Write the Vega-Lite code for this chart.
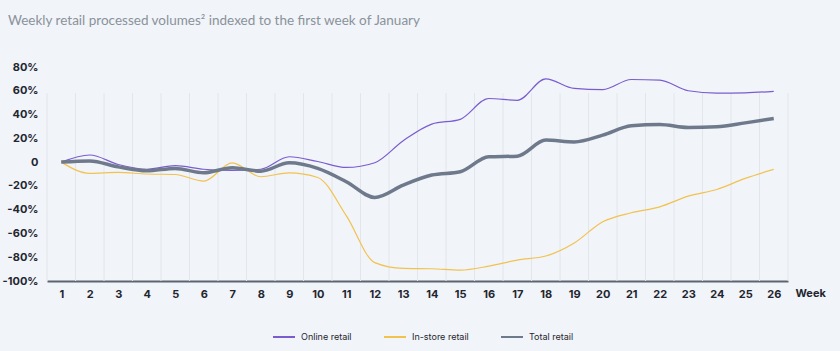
{
  "$schema": "https://vega.github.io/schema/vega-lite/v6.json",
  "width": 741,
  "height": 214,
  "autosize": {"type": "none"},
  "padding": {"left": 47, "top": 67, "right": 52, "bottom": 70},
  "background": "#f1f4f8",
  "config": {
    "view": {"stroke": null},
    "font": "Inter"
  },
  "title": {
    "text": "Weekly retail processed volumes² indexed to the first week of January",
    "anchor": "start",
    "frame": "group",
    "dx": -39,
    "offset": 34,
    "fontSize": 13.5,
    "fontWeight": "normal",
    "color": "#8a929b",
    "font": "Lato"
  },
  "resolve": {"axis": {"x": "independent", "y": "independent"}},
  "datasets": {
    "grid": [
      {"g": 0.5}, {"g": 1.5}, {"g": 2.5}, {"g": 3.5}, {"g": 4.5}, {"g": 5.5}, {"g": 6.5},
      {"g": 7.5}, {"g": 8.5}, {"g": 9.5}, {"g": 10.5}, {"g": 11.5}, {"g": 12.5}, {"g": 13.5},
      {"g": 14.5}, {"g": 15.5}, {"g": 16.5}, {"g": 17.5}, {"g": 18.5}, {"g": 19.5}, {"g": 20.5},
      {"g": 21.5}, {"g": 22.5}, {"g": 23.5}, {"g": 24.5}, {"g": 25.5}, {"g": 26.5}
    ],
    "series": [
      {"week": 1, "series": "Online retail", "value": 0},
      {"week": 2, "series": "Online retail", "value": 6},
      {"week": 3, "series": "Online retail", "value": -2},
      {"week": 4, "series": "Online retail", "value": -6},
      {"week": 5, "series": "Online retail", "value": -3},
      {"week": 6, "series": "Online retail", "value": -6},
      {"week": 7, "series": "Online retail", "value": -7},
      {"week": 8, "series": "Online retail", "value": -6},
      {"week": 9, "series": "Online retail", "value": 4.5},
      {"week": 10, "series": "Online retail", "value": 0.5},
      {"week": 11, "series": "Online retail", "value": -4.5},
      {"week": 12, "series": "Online retail", "value": -0.5},
      {"week": 13, "series": "Online retail", "value": 18},
      {"week": 14, "series": "Online retail", "value": 32},
      {"week": 15, "series": "Online retail", "value": 36},
      {"week": 16, "series": "Online retail", "value": 53.5},
      {"week": 17, "series": "Online retail", "value": 52},
      {"week": 18, "series": "Online retail", "value": 70},
      {"week": 19, "series": "Online retail", "value": 62},
      {"week": 20, "series": "Online retail", "value": 61},
      {"week": 21, "series": "Online retail", "value": 69.5},
      {"week": 22, "series": "Online retail", "value": 69},
      {"week": 23, "series": "Online retail", "value": 60},
      {"week": 24, "series": "Online retail", "value": 58},
      {"week": 25, "series": "Online retail", "value": 58.3},
      {"week": 26, "series": "Online retail", "value": 59.5},
      {"week": 1, "series": "In-store retail", "value": 0},
      {"week": 2, "series": "In-store retail", "value": -9.5},
      {"week": 3, "series": "In-store retail", "value": -8.7},
      {"week": 4, "series": "In-store retail", "value": -10},
      {"week": 5, "series": "In-store retail", "value": -10.4},
      {"week": 6, "series": "In-store retail", "value": -16},
      {"week": 7, "series": "In-store retail", "value": -0.6},
      {"week": 8, "series": "In-store retail", "value": -12.3},
      {"week": 9, "series": "In-store retail", "value": -9},
      {"week": 10, "series": "In-store retail", "value": -12.9},
      {"week": 11, "series": "In-store retail", "value": -45},
      {"week": 12, "series": "In-store retail", "value": -84.5},
      {"week": 13, "series": "In-store retail", "value": -89.4},
      {"week": 14, "series": "In-store retail", "value": -89.7},
      {"week": 15, "series": "In-store retail", "value": -90.8},
      {"week": 16, "series": "In-store retail", "value": -87.5},
      {"week": 17, "series": "In-store retail", "value": -82.4},
      {"week": 18, "series": "In-store retail", "value": -79},
      {"week": 19, "series": "In-store retail", "value": -68},
      {"week": 20, "series": "In-store retail", "value": -50.2},
      {"week": 21, "series": "In-store retail", "value": -42.6},
      {"week": 22, "series": "In-store retail", "value": -37.6},
      {"week": 23, "series": "In-store retail", "value": -28.6},
      {"week": 24, "series": "In-store retail", "value": -23},
      {"week": 25, "series": "In-store retail", "value": -13.7},
      {"week": 26, "series": "In-store retail", "value": -6.1},
      {"week": 1, "series": "Total retail", "value": 0},
      {"week": 2, "series": "Total retail", "value": 1},
      {"week": 3, "series": "Total retail", "value": -4},
      {"week": 4, "series": "Total retail", "value": -7.3},
      {"week": 5, "series": "Total retail", "value": -5.3},
      {"week": 6, "series": "Total retail", "value": -9},
      {"week": 7, "series": "Total retail", "value": -4.8},
      {"week": 8, "series": "Total retail", "value": -7.6},
      {"week": 9, "series": "Total retail", "value": -0.6},
      {"week": 10, "series": "Total retail", "value": -5.3},
      {"week": 11, "series": "Total retail", "value": -16.5},
      {"week": 12, "series": "Total retail", "value": -29.7},
      {"week": 13, "series": "Total retail", "value": -19.3},
      {"week": 14, "series": "Total retail", "value": -10.9},
      {"week": 15, "series": "Total retail", "value": -8.1},
      {"week": 16, "series": "Total retail", "value": 4.5},
      {"week": 17, "series": "Total retail", "value": 5},
      {"week": 18, "series": "Total retail", "value": 18.5},
      {"week": 19, "series": "Total retail", "value": 17},
      {"week": 20, "series": "Total retail", "value": 22.7},
      {"week": 21, "series": "Total retail", "value": 30.5},
      {"week": 22, "series": "Total retail", "value": 31.7},
      {"week": 23, "series": "Total retail", "value": 29.2},
      {"week": 24, "series": "Total retail", "value": 29.7},
      {"week": 25, "series": "Total retail", "value": 33},
      {"week": 26, "series": "Total retail", "value": 36.7}
    ]
  },
  "layer": [
    {
      "data": {"name": "grid"},
      "mark": {"type": "rule", "stroke": "#e2e6eb", "strokeWidth": 1},
      "encoding": {
        "x": {"field": "g", "type": "quantitative", "scale": {"domain": [0.5, 26.5], "nice": false, "zero": false}, "axis": null},
        "y": {"datum": 58, "axis": null},
        "y2": {"datum": -100}
      }
    },
    {
      "data": {"name": "series"},
      "mark": {"type": "line", "interpolate": "monotone"},
      "encoding": {
        "x": {
          "field": "week",
          "type": "quantitative",
          "scale": {"domain": [0.5, 26.5], "nice": false, "zero": false},
          "axis": {
            "values": [1,2,3,4,5,6,7,8,9,10,11,12,13,14,15,16,17,18,19,20,21,22,23,24,25,26],
            "grid": false,
            "ticks": false,
            "domain": true,
            "domainColor": "#5d6570",
            "domainWidth": 2,
            "labelFont": "Inter",
            "labelFontSize": 11,
            "labelFontWeight": "bold",
            "labelColor": "#1f2630",
            "labelPadding": 7,
            "labelFlush": false,
            "labelOverlap": false,
            "title": "Week",
            "titleFont": "Inter",
            "titleFontSize": 11,
            "titleFontWeight": "bold",
            "titleColor": "#1f2630",
            "titleX": 748,
            "titleY": 12,
            "titleAlign": "left",
            "titleBaseline": "middle"
          }
        },
        "y": {
          "field": "value",
          "type": "quantitative",
          "scale": {"domain": [-100, 80], "nice": false},
          "axis": {
            "values": [-100,-80,-60,-40,-20,0,20,40,60,80],
            "labelExpr": "datum.value == 0 ? '0' : datum.value + '%'",
            "grid": false,
            "ticks": false,
            "domain": false,
            "labelFont": "Inter",
            "labelFontSize": 11,
            "labelFontWeight": "bold",
            "labelColor": "#1f2630",
            "labelPadding": 9,
            "labelOverlap": false,
            "labelFlush": false,
            "title": null
          }
        },
        "color": {
          "field": "series",
          "type": "nominal",
          "scale": {
            "domain": ["Online retail", "In-store retail", "Total retail"],
            "range": ["#7a5cd0", "#f2c24f", "#6e7a8c"]
          },
          "legend": {
            "title": null,
            "orient": "none",
            "direction": "horizontal",
            "legendX": 225,
            "legendY": 258,
            "symbolType": "stroke",
            "symbolSize": 484,
            "symbolStrokeWidth": 2,
            "labelFont": "Inter",
            "labelFontSize": 9,
            "labelColor": "#1f2630",
            "labelOffset": 5,
            "columnPadding": 28
          }
        },
        "strokeWidth": {
          "condition": {"test": "datum.series === 'Total retail'", "value": 3.5},
          "value": 1.2
        }
      }
    }
  ]
}
